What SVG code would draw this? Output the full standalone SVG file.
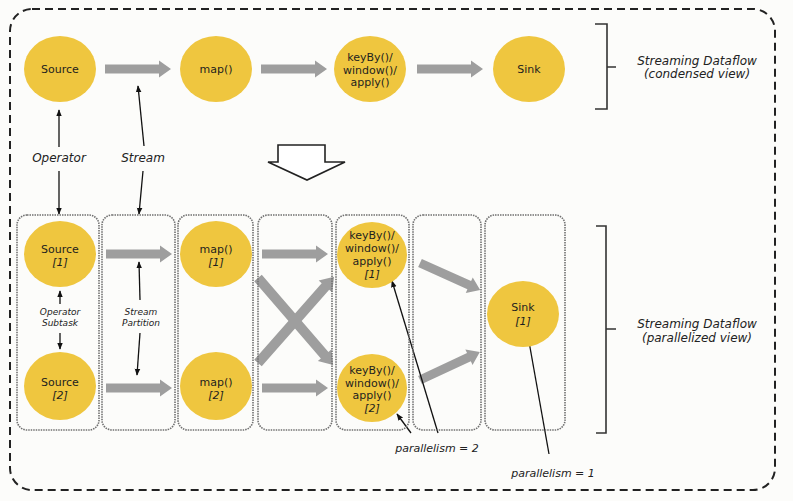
<svg xmlns="http://www.w3.org/2000/svg" xmlns:xlink="http://www.w3.org/1999/xlink" width="793" height="501" viewBox="0 0 793 501">
<style>
.op{fill:#EFC63F}
.lbl{font-family:"DejaVu Sans",Verdana,sans-serif;font-size:11px;fill:#1e1e1e;text-anchor:middle}
.idx{font-style:italic}
.it{font-family:"DejaVu Sans","Liberation Sans",sans-serif;font-style:italic;font-size:12px;fill:#222;text-anchor:middle}
.sm{font-size:9px}
.md{font-size:11px}
.flow{fill:#9E9E9E}
.box{fill:none;stroke:#707070;stroke-width:1.6;stroke-dasharray:1.5 1}
.thin{stroke:#111;stroke-width:1.3;fill:none;marker-end:url(#ah)}
.brk{fill:none;stroke:#333;stroke-width:1.6}
</style>
<defs>
<marker id="ah" viewBox="0 0 10 10" refX="9" refY="5" markerWidth="7" markerHeight="7" markerUnits="userSpaceOnUse" orient="auto">
<path d="M0,1 L10,5 L0,9 z" fill="#111"/>
</marker>
<path id="arr" d="M0,-4.5 H54 V-8.5 L66,0 L54,8.5 V4.5 H0 z"/>
<path id="arrL" d="M0,-5 H102 V-9 L115,0 L102,9 V5 H0 z"/>
</defs>
<rect width="793" height="501" fill="#FCFCFA"/>
<rect x="10" y="9" width="765" height="481" rx="22" fill="none" stroke="#222" stroke-width="2" stroke-dasharray="8 5"/>

<g id="connectors">
<use href="#arr" class="flow" transform="translate(105,69)"/>
<use href="#arr" class="flow" transform="translate(261,69)"/>
<use href="#arr" class="flow" transform="translate(417,69)"/>
<use href="#arr" class="flow" transform="translate(106,254)"/>
<use href="#arr" class="flow" transform="translate(106,388)"/>
<use href="#arr" class="flow" transform="translate(262,254)"/>
<use href="#arr" class="flow" transform="translate(262,388)"/>
<use href="#arrL" class="flow" transform="translate(258,278) rotate(49.2)"/>
<use href="#arrL" class="flow" transform="translate(258,363) rotate(-48.6)"/>
<use href="#arr" class="flow" transform="translate(420,263) rotate(24.2)"/>
<use href="#arr" class="flow" transform="translate(420,380) rotate(-25)"/>
<polygon points="278,145 325,145 325,162 345,162 307,180 268,162 278,162" fill="#fff" stroke="#222" stroke-width="1.6"/>
<line class="thin" x1="59" y1="147" x2="59" y2="110"/>
<line class="thin" x1="59" y1="171" x2="59" y2="214"/>
<line class="thin" x1="144" y1="146" x2="138" y2="86"/>
<line class="thin" x1="143" y1="171" x2="139" y2="214"/>
<line class="thin" x1="60" y1="304" x2="60" y2="291"/>
<line class="thin" x1="60" y1="333" x2="60" y2="349"/>
<line class="thin" x1="140" y1="300" x2="139" y2="262"/>
<line class="thin" x1="140" y1="333" x2="137" y2="375"/>
<line class="thin" x1="411" y1="433" x2="397" y2="414"/>
<line class="thin" x1="438" y1="433" x2="392" y2="281"/>
<line class="thin" x1="549" y1="454" x2="528" y2="336"/>
</g>

<g id="boxes">
<rect class="box" x="17" y="215" width="82" height="215" rx="10"/>
<rect class="box" x="102" y="215" width="73" height="215" rx="10"/>
<rect class="box" x="178" y="215" width="75" height="215" rx="10"/>
<rect class="box" x="258" y="215" width="74" height="215" rx="10"/>
<rect class="box" x="336" y="215" width="73" height="215" rx="10"/>
<rect class="box" x="413" y="215" width="68" height="215" rx="10"/>
<rect class="box" x="485" y="215" width="80" height="215" rx="10"/>
</g>

<g id="source">
<ellipse class="op" cx="60" cy="69" rx="36" ry="33"/>
<text class="lbl" x="60" y="73">Source</text>
</g>
<g id="map">
<ellipse class="op" cx="216" cy="69" rx="36" ry="33"/>
<text class="lbl" x="216" y="73">map()</text>
</g>
<g id="keyby">
<ellipse class="op" cx="370" cy="69" rx="36" ry="33"/>
<text class="lbl" x="370" y="61">keyBy()/</text>
<text class="lbl" x="370" y="74">window()/</text>
<text class="lbl" x="370" y="86">apply()</text>
</g>
<g id="sink">
<ellipse class="op" cx="529" cy="69" rx="36" ry="33"/>
<text class="lbl" x="529" y="73">Sink</text>
</g>

<g id="source1">
<ellipse class="op" cx="60" cy="254" rx="36" ry="33"/>
<text class="lbl" x="60" y="253">Source</text>
<text class="lbl idx" x="60" y="266">[1]</text>
</g>
<g id="source2">
<ellipse class="op" cx="60" cy="386" rx="36" ry="34"/>
<text class="lbl" x="60" y="386">Source</text>
<text class="lbl idx" x="60" y="399">[2]</text>
</g>
<g id="map1">
<ellipse class="op" cx="216" cy="254" rx="36" ry="33"/>
<text class="lbl" x="216" y="253">map()</text>
<text class="lbl idx" x="216" y="266">[1]</text>
</g>
<g id="map2">
<ellipse class="op" cx="216" cy="386" rx="36" ry="34"/>
<text class="lbl" x="216" y="386">map()</text>
<text class="lbl idx" x="216" y="399">[2]</text>
</g>
<g id="keyby1">
<ellipse class="op" cx="372" cy="255" rx="35" ry="33"/>
<text class="lbl" x="372" y="239">keyBy()/</text>
<text class="lbl" x="372" y="252">window()/</text>
<text class="lbl" x="372" y="265">apply()</text>
<text class="lbl idx" x="372" y="278">[1]</text>
</g>
<g id="keyby2">
<ellipse class="op" cx="372" cy="388" rx="35" ry="34"/>
<text class="lbl" x="372" y="374">keyBy()/</text>
<text class="lbl" x="372" y="387">window()/</text>
<text class="lbl" x="372" y="399">apply()</text>
<text class="lbl idx" x="372" y="412">[2]</text>
</g>
<g id="sink1">
<ellipse class="op" cx="523" cy="314" rx="36" ry="33"/>
<text class="lbl" x="523" y="311">Sink</text>
<text class="lbl idx" x="523" y="325">[1]</text>
</g>

<g id="labels">
<text class="it" x="59" y="162">Operator</text>
<text class="it" x="143" y="162">Stream</text>
<text class="it sm" x="60" y="315">Operator</text>
<text class="it sm" x="60" y="326">Subtask</text>
<text class="it sm" x="141" y="315">Stream</text>
<text class="it sm" x="141" y="326">Partition</text>
<text class="it md" x="437" y="452">parallelism = 2</text>
<text class="it md" x="553" y="477">parallelism = 1</text>
<text class="it" x="697" y="65">Streaming Dataflow</text>
<text class="it" x="697" y="78">(condensed view)</text>
<text class="it" x="697" y="328">Streaming Dataflow</text>
<text class="it" x="697" y="342">(parallelized view)</text>
</g>

<g id="brackets">
<path class="brk" d="M595,24 H607 V109 H595 M607,67 H616"/>
<path class="brk" d="M596,226 H606 V433 H596 M606,329 H616"/>
</g>
</svg>
